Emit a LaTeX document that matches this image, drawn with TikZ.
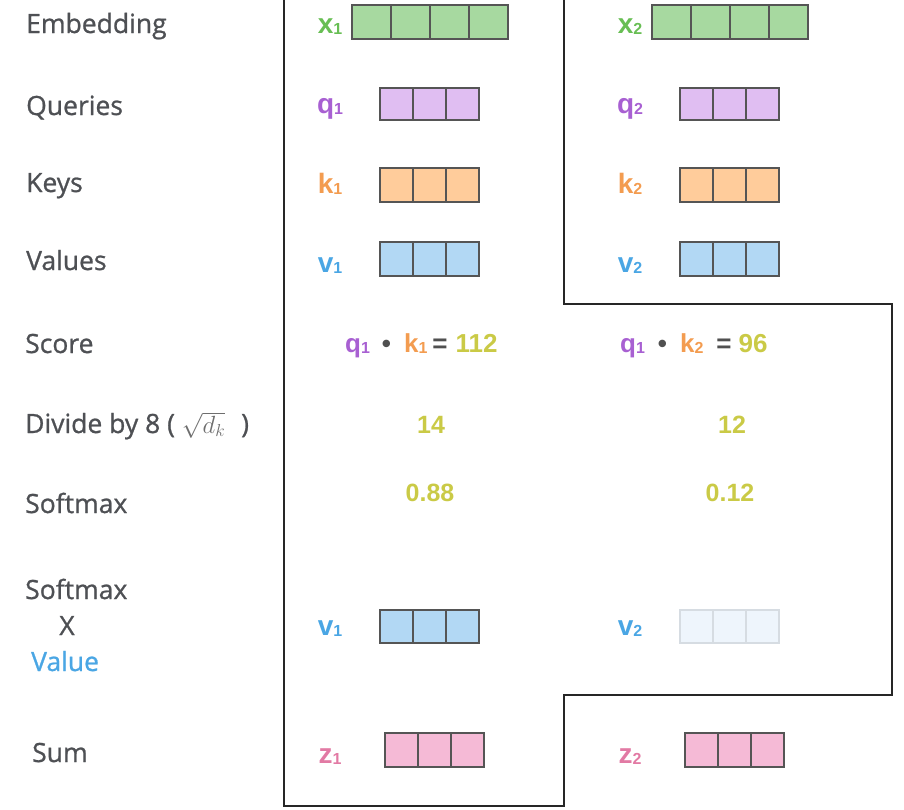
\documentclass[tikz,border=0pt]{standalone}
\usepackage{fontspec}
\newfontfamily\labfont[FakeBold=0.9]{Open Sans}
\newfontfamily\hvfont{Liberation Sans}
\definecolor{labgray}{RGB}{78,80,84}
\definecolor{dgray}{RGB}{80,80,80}
\definecolor{cellline}{RGB}{85,85,85}
\definecolor{xgreen}{RGB}{104,190,84}
\definecolor{xfill}{RGB}{167,217,160}
\definecolor{qpurple}{RGB}{168,96,210}
\definecolor{qfill}{RGB}{224,190,242}
\definecolor{korange}{RGB}{243,156,80}
\definecolor{kfill}{RGB}{255,204,155}
\definecolor{vblue}{RGB}{74,166,228}
\definecolor{vfill}{RGB}{178,216,244}
\definecolor{vfade}{RGB}{238,245,252}
\definecolor{vfadeline}{RGB}{214,220,226}
\definecolor{zpink}{RGB}{226,122,164}
\definecolor{zfill}{RGB}{245,186,214}
\definecolor{numyel}{RGB}{202,202,70}
\definecolor{mathgray}{RGB}{110,110,110}
\newcommand\sbs[1]{\raisebox{-1pt}{\fontsize{16}{16}\selectfont #1}}
\tikzset{
  cell/.style={draw=cellline, line width=1.1pt, inner sep=0pt, outer sep=0pt, anchor=north west},
  rowlab/.style={anchor=base west, inner sep=0pt, text=labgray, font=\labfont\fontsize{26.5}{30}\selectfont},
  vlab/.style={anchor=base, inner sep=0pt, font=\hvfont\bfseries\fontsize{28}{30}\selectfont},
  num/.style={anchor=base, inner sep=0pt, text=numyel, font=\hvfont\bfseries\fontsize{25}{30}\selectfont},
  outline/.style={draw=black!85, line width=1.3pt}
}
% name, left, top, n cells, cell width, cell height, fill, line
\newcommand\vecbox[8]{%
  \foreach \i in {1,...,#4} {
    \node[cell, draw=#8, fill=#7, minimum width=#5pt, minimum height=#6pt] (#1-\i) at ({#2+(\i-1)*#5},#3) {};
  }%
}
\begin{document}
\begin{tikzpicture}[x=1pt,y=-1pt]
\useasboundingbox (0,0) rectangle (904,809);
% outline
\coordinate (o1) at (284,-2);
\coordinate (o2) at (284,806);
\coordinate (o3) at (564,806);
\coordinate (o4) at (564,695);
\coordinate (o5) at (892,695);
\coordinate (o6) at (892,304);
\coordinate (o7) at (564,304);
\coordinate (o8) at (564,-2);
\draw[outline] (o1) -- (o2) -- (o3) -- (o4) -- (o5) -- (o6) -- (o7) -- (o8);

% row labels
\node[rowlab] (lEmb) at (26,33) {Embedding};
\node[rowlab] (lQ) at (26,115) {Queries};
\node[rowlab] (lK) at (26,192) {Keys};
\node[rowlab] (lV) at (26,270) {Values};
\node[rowlab] (lS) at (25,353) {Score};
\node[rowlab] (lD) at (25,433) {Divide by 8 ( {\color{mathgray}\fontsize{23}{24}\selectfont$\sqrt{d_k}$}\hspace{16pt})};
\node[rowlab] (lSm) at (25,513) {Softmax};
\node[rowlab] (lSm2) at (25,599) {Softmax};
\node[rowlab, anchor=base] (lX) at (67,635) {X};
\node[rowlab, text=vblue] (lVal) at (31,671) {Value};
\node[rowlab] (lSum) at (32,762) {Sum};

% vector labels
\node[vlab, text=xgreen] (tx1) at (330,33) {x\sbs{1}};
\node[vlab, text=xgreen] (tx2) at (630,33) {x\sbs{2}};
\node[vlab, text=qpurple] (tq1) at (330,113) {q\sbs{1}};
\node[vlab, text=qpurple] (tq2) at (630,113) {q\sbs{2}};
\node[vlab, text=korange] (tk1) at (330,193) {k\sbs{1}};
\node[vlab, text=korange] (tk2) at (630,193) {k\sbs{2}};
\node[vlab, text=vblue] (tv1) at (330,272) {v\sbs{1}};
\node[vlab, text=vblue] (tv2) at (630,272) {v\sbs{2}};
\node[vlab, text=vblue] (tsv1) at (330,635) {v\sbs{1}};
\node[vlab, text=vblue] (tsv2) at (630,635) {v\sbs{2}};
\node[vlab, text=zpink] (tz1) at (330,763) {z\sbs{1}};
\node[vlab, text=zpink] (tz2) at (630,763) {z\sbs{2}};

% vectors
\vecbox{x1}{352}{5}{4}{39}{34}{xfill}{cellline}
\vecbox{x2}{652}{5}{4}{39}{34}{xfill}{cellline}
\vecbox{q1}{380}{88}{3}{33}{32}{qfill}{cellline}
\vecbox{q2}{680}{88}{3}{33}{32}{qfill}{cellline}
\vecbox{k1}{380}{168}{3}{33}{34}{kfill}{cellline}
\vecbox{k2}{680}{168}{3}{33}{34}{kfill}{cellline}
\vecbox{v1}{380}{242}{3}{33}{34}{vfill}{cellline}
\vecbox{v2}{680}{242}{3}{33}{34}{vfill}{cellline}
\vecbox{sv1}{380}{610}{3}{33}{33}{vfill}{cellline}
\vecbox{sv2}{680}{610}{3}{33}{33}{vfade}{vfadeline}
\vecbox{z1}{385}{733}{3}{33}{34}{zfill}{cellline}
\vecbox{z2}{685}{733}{3}{33}{34}{zfill}{cellline}

% score row
\node[num, anchor=base west, font=\hvfont\bfseries\fontsize{26}{30}\selectfont] (s1) at (345,352)
  {\textcolor{qpurple}{q\sbs{1}}\hspace{12pt}\textcolor{dgray}{•}\hspace{13pt}\textcolor{korange}{k\sbs{1}}\hspace{5pt}\textcolor{dgray}{=}\hspace{8pt}112};
\node[num, anchor=base west, font=\hvfont\bfseries\fontsize{26}{30}\selectfont] (s2) at (620,352)
  {\textcolor{qpurple}{q\sbs{1}}\hspace{13pt}\textcolor{dgray}{•}\hspace{13pt}\textcolor{korange}{k\sbs{2}}\hspace{13pt}\textcolor{dgray}{=}\hspace{7pt}96};

% numbers
\node[num] (d1) at (431,433) {14};
\node[num] (d2) at (732,433) {12};
\node[num] (m1) at (430,501) {0.88};
\node[num] (m2) at (730,501) {0.12};
\end{tikzpicture}
\end{document}
